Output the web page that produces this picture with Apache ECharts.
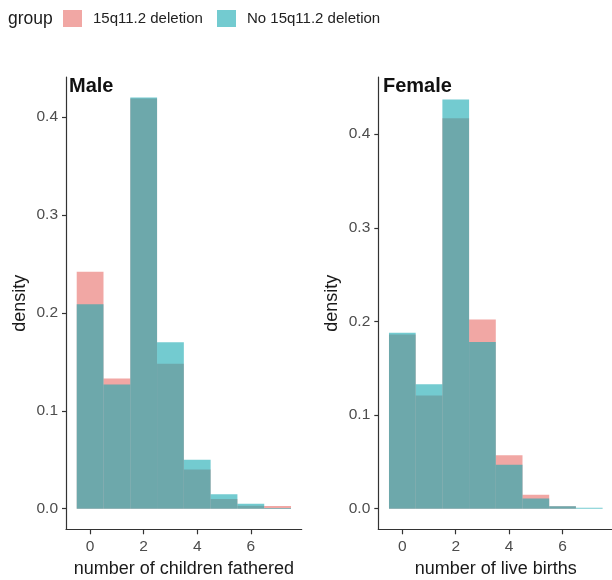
<!DOCTYPE html>
<html>
<head>
<meta charset="utf-8">
<script src="https://cdn.jsdelivr.net/npm/echarts@6/dist/echarts.min.js"></script>
<style>html,body{margin:0;padding:0;background:#fff;}#c{width:612px;height:580px;}</style>
</head>
<body>
<div id="c"></div>
<script>
var bins = [0, 1, 2, 3, 4, 5, 6, 7];
var maleDeletion     = [0.242, 0.133, 0.419, 0.148, 0.040, 0.010, 0.003, 0.0027];
var maleNoDeletion   = [0.209, 0.127, 0.420, 0.170, 0.050, 0.0147, 0.0051, 0.0008];
var femaleDeletion   = [0.186, 0.121, 0.417, 0.202, 0.057, 0.015, 0.0025, 0];
var femaleNoDeletion = [0.188, 0.133, 0.437, 0.178, 0.047, 0.011, 0.0025, 0.001];
var xTicks = [0, 2, 4, 6];
var yTicks = [0, 0.1, 0.2, 0.3, 0.4];
var groupNames = ['15q11.2 deletion', 'No 15q11.2 deletion'];
var panelTitles = ['Male', 'Female'];
var xTitles = ['number of children fathered', 'number of live births'];

var FONT = 'Liberation Sans, Arial, sans-serif';
var pinkFill = 'rgba(232,108,104,0.6)';
var tealFill = 'rgba(22,168,176,0.6)';

function pairs(vals){ return bins.map(function(b,i){ return [b, vals[i]]; }); }

function renderBar(params, api){
  var x = api.value(0), y = api.value(1);
  var p0 = api.coord([x - 0.5, y]);
  var p1 = api.coord([x + 0.5, 0]);
  return {type:'rect', shape:{x:p0[0], y:p0[1], width:p1[0]-p0[0], height:p1[1]-p0[1]}, style: api.style()};
}

function xAxis(idx, name){
  return {type:'value', gridIndex:idx, min:-0.9, max:7.9, name:name, nameLocation:'middle', nameGap:31,
    nameTextStyle:{fontFamily:FONT, fontSize:18, color:'#1a1a1a'},
    axisLine:{show:true, onZero:false, lineStyle:{color:'#333', width:1.2}},
    axisTick:{show:true, length:5, customValues:xTicks, lineStyle:{color:'#333', width:1.2}},
    axisLabel:{show:true, customValues:xTicks, fontFamily:FONT, fontSize:15.5, color:'#4d4d4d', margin:9},
    splitLine:{show:false}};
}
function yAxis(idx, min, max){
  return {type:'value', gridIndex:idx, min:min, max:max, name:'density', nameLocation:'middle', nameGap:37,
    nameTextStyle:{fontFamily:FONT, fontSize:18, color:'#1a1a1a'},
    axisLine:{show:true, onZero:false, lineStyle:{color:'#333', width:1.2}},
    axisTick:{show:true, length:4, customValues:yTicks, lineStyle:{color:'#333', width:1.2}},
    axisLabel:{show:true, customValues:yTicks, fontFamily:FONT, fontSize:15.5, color:'#4d4d4d', margin:8,
      formatter:function(v){ return v.toFixed(1); }},
    splitLine:{show:false}};
}
function series(name, idx, vals, color){
  return {type:'custom', name:name, xAxisIndex:idx, yAxisIndex:idx, renderItem:renderBar,
    itemStyle:{color:color}, data:pairs(vals), clip:true, animation:false};
}

var chart = echarts.init(document.getElementById('c'), null, {renderer:'canvas'});
chart.setOption({
  animation:false,
  backgroundColor:'#fff',
  grid:[
    {left:66, top:77, width:235.7, height:452.3, containLabel:false, outerBoundsMode:'none'},
    {left:378.3, top:77, width:235, height:452.3, containLabel:false, outerBoundsMode:'none'}
  ],
  title:[
    {text:panelTitles[0], left:69, top:76, padding:0, textStyle:{fontFamily:FONT, fontSize:20, fontWeight:'bold', color:'#111'}},
    {text:panelTitles[1], left:383, top:76, padding:0, textStyle:{fontFamily:FONT, fontSize:20, fontWeight:'bold', color:'#111'}}
  ],
  graphic:[
    {type:'text', left:8, top:10, style:{text:'group', fontFamily:FONT, fontSize:17.5, fill:'#1a1a1a'}}
  ],
  legend:[
    {data:[groupNames[0]], left:63, top:10, padding:0, icon:'rect', itemWidth:19, itemHeight:17,
      textStyle:{fontFamily:FONT, fontSize:15, color:'#222', padding:[0,0,0,6]}},
    {data:[groupNames[1]], left:217, top:10, padding:0, icon:'rect', itemWidth:19, itemHeight:17,
      textStyle:{fontFamily:FONT, fontSize:15, color:'#222', padding:[0,0,0,6]}}
  ],
  xAxis:[xAxis(0, xTitles[0]), xAxis(1, xTitles[1])],
  yAxis:[yAxis(0, -0.021, 0.441), yAxis(1, -0.022, 0.461)],
  series:[
    series(groupNames[0], 0, maleDeletion, pinkFill),
    series(groupNames[1], 0, maleNoDeletion, tealFill),
    series(groupNames[0], 1, femaleDeletion, pinkFill),
    series(groupNames[1], 1, femaleNoDeletion, tealFill)
  ]
});
</script>
</body>
</html>
